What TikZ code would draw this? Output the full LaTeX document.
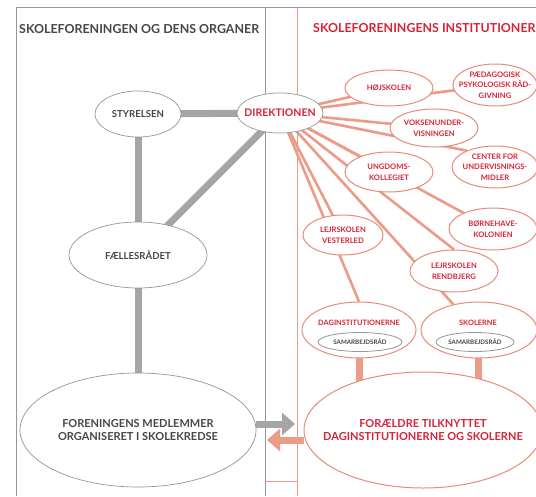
\documentclass[tikz,border=0pt]{standalone}
\usepackage{fontspec}
\setmainfont{Lato}
\usetikzlibrary{shapes.geometric,arrows.meta,backgrounds}
\definecolor{gline}{RGB}{150,150,150}
\definecolor{gbar}{RGB}{165,165,165}
\definecolor{gtext}{RGB}{70,70,70}
\definecolor{rtext}{RGB}{215,35,55}
\definecolor{pline}{RGB}{236,155,135}
\definecolor{pedge}{RGB}{232,140,120}
\definecolor{pframe}{RGB}{240,150,140}
\begin{document}
\begin{tikzpicture}[x=1pt,y=-1pt,
  gell/.style={ellipse, draw=gline, line width=0.7pt, fill=white, inner sep=-30pt, text=gtext,
    font=\bfseries\fontsize{9.6}{12.5}\selectfont, align=center},
  rell/.style={ellipse, draw=pedge, line width=1pt, fill=white, inner sep=-30pt, text=rtext,
    font=\bfseries\fontsize{7.6}{10.5}\selectfont, align=center},
  subell/.style={ellipse, draw=gline, line width=0.8pt, fill=white, inner sep=-30pt, text=gtext,
    font=\bfseries\fontsize{6.2}{7}\selectfont},
  rtxt/.style={inner sep=0pt, text=rtext, font=\bfseries\fontsize{7.4}{8}\selectfont},
  title/.style={anchor=west, inner sep=0pt, font=\bfseries\fontsize{12.4}{14}\selectfont},
  gbarline/.style={draw=gbar, line width=7pt},
  pbarline/.style={draw=pline, line width=7pt},
  ray/.style={draw=pline, line width=2.6pt},
  frameg/.style={draw=gline, line width=0.9pt},
  framep/.style={draw=pframe, line width=0.9pt},
  garrow/.style={draw=gbar, line width=7pt, -{Triangle[length=13pt,width=22pt]}},
  parrow/.style={draw=pline, line width=7pt, -{Triangle[length=13pt,width=22pt]}}
]
\useasboundingbox (0,0) rectangle (536,496);

% titles
\node[title, text=gtext] (t1) at (19,29) {SKOLEFORENINGEN OG DENS ORGANER};
\node[title, text=rtext] (t2) at (313,28) {SKOLEFORENINGENS INSTITUTIONER};

% left side
\node[gell, minimum width=86pt, minimum height=46pt] (sty) at (138,114) {STYRELSEN};
\node[gell, text=rtext, minimum width=86pt, minimum height=40pt, font=\bfseries\fontsize{10.5}{12.5}\selectfont] (dir) at (280,113) {DIREKTIONEN};
\node[gell, minimum width=138pt, minimum height=66pt] (fael) at (138,255) {FÆLLESRÅDET};
\node[gell, minimum width=236pt, minimum height=114pt, font=\bfseries\fontsize{11}{13.5}\selectfont] (med) at (138,430) {FORENINGENS MEDLEMMER\\ORGANISERET I SKOLEKREDSE};

% right side
\node[rell, minimum width=88pt, minimum height=36pt] (hoj) at (389,88) {HØJSKOLEN};
\node[rell, minimum width=84pt, minimum height=42pt] (paed) at (495,85) {PÆDAGOGISK\\PSYKOLOGISK RÅD-\\GIVNING};
\node[rell, minimum width=88pt, minimum height=38pt] (voks) at (434,128) {VOKSENUNDER-\\VISNINGEN};
\node[rell, minimum width=86pt, minimum height=42pt] (cent) at (495,167) {CENTER FOR\\UNDERVISNINGS-\\MIDLER};
\node[rell, minimum width=88pt, minimum height=40pt] (ung) at (389,172) {UNGDOMS-\\KOLLEGIET};
\node[rell, minimum width=88pt, minimum height=42pt] (bo) at (493,229) {BØRNEHAVE-\\KOLONIEN};
\node[rell, minimum width=80pt, minimum height=40pt] (ves) at (343,235) {LEJRSKOLEN\\VESTERLED};
\node[rell, minimum width=88pt, minimum height=42pt] (ren) at (454,271) {LEJRSKOLEN\\RENDBJERG};
\node[rell, minimum width=114pt, minimum height=56pt] (dag) at (359,330) {};
\node[rtxt] (dagt) at (359,323) {DAGINSTITUTIONERNE};
\node[subell, minimum width=84pt, minimum height=19pt] (sub1) at (360,342) {SAMARBEJDSRÅD};
\node[rell, minimum width=116pt, minimum height=56pt] (sk) at (479,330) {};
\node[rtxt] (skt) at (478,323) {SKOLERNE};
\node[subell, minimum width=78pt, minimum height=19pt] (sub2) at (475,342) {SAMARBEJDSRÅD};
\node[rell, minimum width=238pt, minimum height=116pt, font=\bfseries\fontsize{11}{13.5}\selectfont] (for) at (423,430) {FORÆLDRE TILKNYTTET\\DAGINSTITUTIONERNE OG SKOLERNE};

\begin{scope}[on background layer]
  \fill[white] (0,0) rectangle (536,496);
  % frame
  \draw[frameg] (16,496) -- (16,7) -- (536,7);
  \draw[frameg] (265,7) -- (265,496);
  \draw[framep] (297,7) -- (297,496);
  \draw[framep] (265,481) -- (297,481);
  % grey bars
  \draw[gbarline] (sty.center) -- (dir.center);
  \draw[gbarline] (sty.center) -- (fael.center);
  \draw[gbarline] (dir.center) -- (fael.center);
  \draw[gbarline] (fael.center) -- (med.center);
  % rays
  \foreach \t in {hoj,paed,voks,ung,bo,ves}
    \draw[ray] (dir.center) -- (\t.center);
  \draw[ray] (dir.center) -- (cent.150);
  \draw[ray] (dir.center) -- (ren.north);
  \draw[ray] (dir.center) -- (dag.north);
  \draw[ray] (dir.center) -- (sk.135);
  % pink bars
  \draw[pbarline] (dag.center) -- (dag.center |- for.center);
  \draw[pbarline] (skt.center) -- (skt.center |- for.center);
\end{scope}

% arrows
\coordinate (gtip) at (295,424);
\coordinate (ptip) at (267,440);
\draw[garrow] ([yshift=6pt]med.east) -- (gtip);
\draw[parrow] ([yshift=-10pt]for.west) -- (ptip);
\end{tikzpicture}
\end{document}
